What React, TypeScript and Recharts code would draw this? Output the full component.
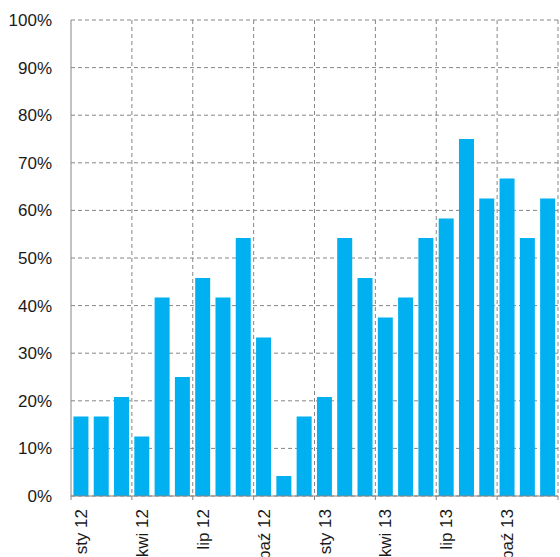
import { BarChart, Bar, XAxis, YAxis, CartesianGrid } from 'recharts';

const months = [
  'sty 12', 'lut 12', 'mar 12', 'kwi 12', 'maj 12', 'cze 12',
  'lip 12', 'sie 12', 'wrz 12', 'paź 12', 'lis 12', 'gru 12',
  'sty 13', 'lut 13', 'mar 13', 'kwi 13', 'maj 13', 'cze 13',
  'lip 13', 'sie 13', 'wrz 13', 'paź 13', 'lis 13', 'gru 13',
];

const shares = [
  16.7, 16.7, 20.8, 12.5, 41.7, 25.0, 45.8, 41.7, 54.2, 33.3, 4.2, 16.7,
  20.8, 54.2, 45.8, 37.5, 41.7, 54.2, 58.3, 75.0, 62.5, 66.7, 54.2, 62.5,
];

const yTicks = [0, 10, 20, 30, 40, 50, 60, 70, 80, 90, 100];

const data = months.map((m, i) => ({ month: m, value: shares[i] }));

const WIDTH = 560;
const HEIGHT = 557;
const Y_AXIS_W = 71;
const MARGIN = { top: 20, right: 2, bottom: 0, left: 0 };
const STEP = 3;
const BAND = (WIDTH - MARGIN.left - MARGIN.right - Y_AXIS_W) / months.length;
const AXIS_GREY = '#868686';
const FONT = "'Liberation Sans', Arial, sans-serif";

const MonthTick = ({ x, y, payload, index }: any) => {
  if (index % STEP !== 0 && index !== months.length - 1) return <g />;
  const left = x - BAND / 2;
  return (
    <g>
      {index % STEP === 0 && (
        <>
          <line x1={left} x2={left} y1={y} y2={y + 4} stroke={AXIS_GREY} />
          <g transform={`translate(${x},${y + 13})`}>
            <text
              x={0}
              y={0}
              dy="0.35em"
              textAnchor="end"
              transform="rotate(-90)"
              fill="#1a1a1a"
              fontSize={17}
              fontFamily={FONT}
            >
              {payload.value}
            </text>
          </g>
        </>
      )}
      {index === months.length - 1 && (
        <line x1={x + BAND / 2} x2={x + BAND / 2} y1={y} y2={y + 4} stroke={AXIS_GREY} />
      )}
    </g>
  );
};

export default function App() {
  return (
    <div>
      <style>{`body{margin:0}`}</style>
      <BarChart width={WIDTH} height={HEIGHT} data={data} margin={MARGIN} barCategoryGap="12%">
        <CartesianGrid
          stroke={AXIS_GREY}
          strokeDasharray="4 3"
          verticalCoordinatesGenerator={({ offset }: any) => {
            const pts: number[] = [];
            for (let i = STEP; i <= months.length; i += STEP) {
              pts.push(offset.left + (i * offset.width) / months.length);
            }
            return pts;
          }}
        />
        <XAxis
          dataKey="month"
          interval={0}
          height={HEIGHT - 496}
          tickLine={false}
          tickSize={0}
          tickMargin={0}
          stroke={AXIS_GREY}
          tick={<MonthTick />}
        />
        <YAxis
          domain={[0, 100]}
          ticks={yTicks}
          width={Y_AXIS_W}
          tickLine={false}
          tickSize={6}
          tickMargin={13}
          stroke={AXIS_GREY}
          tickFormatter={(v: number) => `${v}%`}
          tick={{ fill: '#1a1a1a', fontSize: 17, fontFamily: FONT }}
        />
        <Bar dataKey="value" fill="#00B0F0" isAnimationActive={false} />
      </BarChart>
    </div>
  );
}
